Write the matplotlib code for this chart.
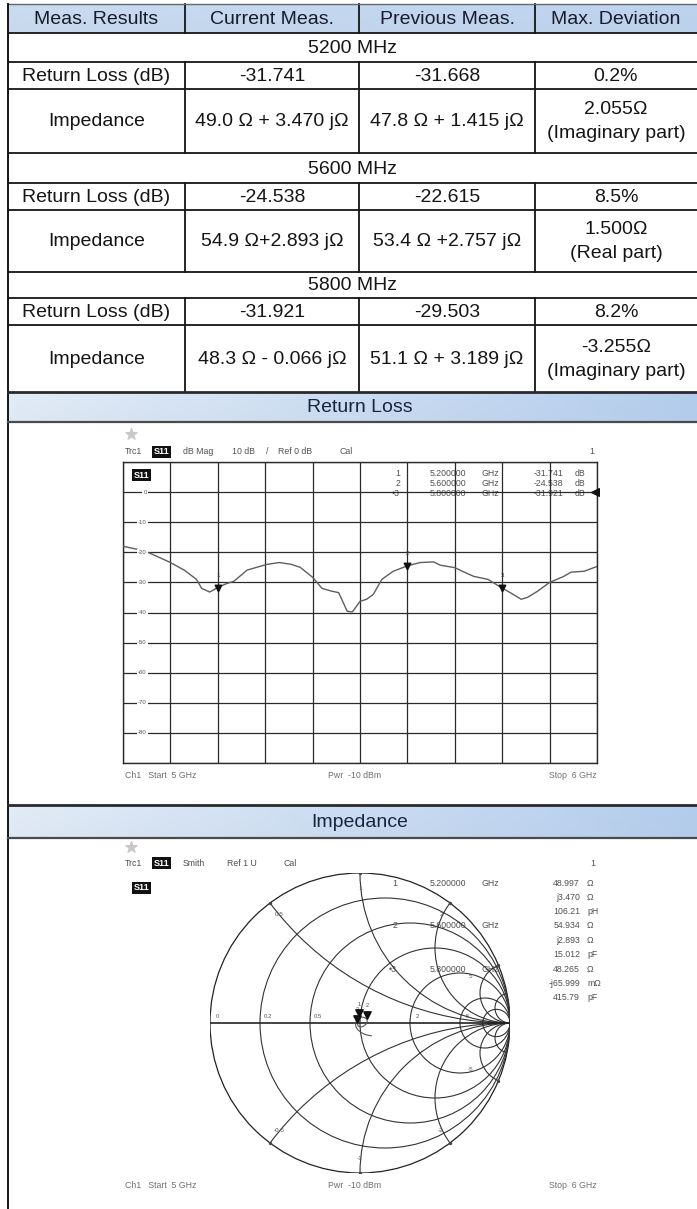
import numpy as np
import matplotlib.pyplot as plt
from matplotlib.patches import Circle

plt.rcParams['font.family'] = ['Liberation Sans', 'DejaVu Sans']

W, H = 697, 1209

# ---- results table ----
header = ["Meas. Results", "Current Meas.", "Previous Meas.", "Max. Deviation"]
bands = ["5200 MHz", "5600 MHz", "5800 MHz"]
rl_current = ["-31.741", "-24.538", "-31.921"]
rl_previous = ["-31.668", "-22.615", "-29.503"]
rl_dev = ["0.2%", "8.5%", "8.2%"]
z_current = ["49.0 Ω + 3.470 jΩ", "54.9 Ω+2.893 jΩ", "48.3 Ω - 0.066 jΩ"]
z_previous = ["47.8 Ω + 1.415 jΩ", "53.4 Ω +2.757 jΩ", "51.1 Ω + 3.189 jΩ"]
z_dev = ["2.055Ω", "1.500Ω", "-3.255Ω"]
z_dev_part = ["(Imaginary part)", "(Real part)", "(Imaginary part)"]

# ---- return loss trace (S11, dB) ----
freq_ghz = [5.00, 5.03, 5.057, 5.10, 5.13, 5.155, 5.166, 5.183, 5.20, 5.217,
            5.234, 5.262, 5.304, 5.33, 5.355, 5.374, 5.40, 5.42, 5.44, 5.455,
            5.473, 5.484, 5.50, 5.514, 5.528, 5.546, 5.57, 5.60, 5.627, 5.655,
            5.67, 5.70, 5.72, 5.74, 5.77, 5.80, 5.817, 5.84, 5.853, 5.874,
            5.90, 5.93, 5.945, 5.973, 6.00]
s11_db = [-18.0, -19.0, -20.3, -23.4, -26.0, -29.0, -32.0, -33.2, -31.7, -30.5,
          -29.6, -25.9, -24.0, -23.4, -24.0, -25.0, -28.3, -32.0, -32.9, -33.4,
          -39.6, -39.8, -36.3, -35.6, -34.0, -29.0, -26.3, -24.5, -23.4, -23.2,
          -24.3, -25.1, -26.6, -28.0, -29.0, -31.9, -33.4, -35.6, -35.0, -33.0,
          -30.0, -28.0, -26.6, -26.3, -24.7]
mk_freq = [5.2, 5.6, 5.8]
mk_db = [-31.741, -24.538, -31.921]
db_ticks = [0, -10, -20, -30, -40, -50, -60, -70, -80]

# ---- smith chart ----
r_circles = [0.2, 0.5, 1, 2, 5, 10]
x_arcs = [0.5, 1, 2, 5, 10]
r_labels = ["0", "0.2", "0.5", "2", "5"]
r_label_vals = [0, 0.2, 0.5, 2, 5]
x_label_vals = [0.5, 1, 2, 5, -0.5, -1, -2, -5]
x_labels = ["0.5", "1", "2", "5", "-0.5", "-1", "-2", "-5"]
gamma_re = [0.075, 0.055, 0.03, 0.005, -0.015, -0.027, -0.030, -0.022, -0.009, 0.010,
            0.030, 0.046, 0.048, 0.040, 0.022, 0.004, -0.012, -0.018, -0.012, 0.0]
gamma_im = [-0.085, -0.082, -0.075, -0.062, -0.045, -0.025, -0.005, 0.018, 0.035, 0.040,
            0.036, 0.027, 0.010, -0.008, -0.022, -0.028, -0.020, 0.0, 0.012, 0.015]
mk_z_re = [48.997, 54.934, 48.265]
mk_z_im = [3.470, 2.893, -0.066]
smith_freq = ["5.200000", "5.600000", "5.800000"]
smith_vals = [["48.997", "j3.470", "106.21"], ["54.934", "j2.893", "15.012"],
              ["48.265", "-j65.999", "415.79"]]
smith_units = [["Ω", "Ω", "pH"], ["Ω", "Ω", "pF"], ["Ω", "mΩ", "pF"]]

fig = plt.figure(figsize=(W / 100, H / 100), dpi=100)
ax = fig.add_axes([0, 0, 1, 1])
ax.set_xlim(0, W)
ax.set_ylim(H, 0)
ax.axis('off')

x_cols = [8, 185, 359, 535, W]
y_rows = [4, 33, 62, 89, 153, 183, 210, 272, 298, 325, 392]
fs = 14
ink = '#151515'


def gradient(x0, x1, y0, y1, c_left, c_right, shade=0.12):
    cl = np.array(plt.matplotlib.colors.to_rgb(c_left))
    cr = np.array(plt.matplotlib.colors.to_rgb(c_right))
    t = np.linspace(0, 1, 64)
    v = np.linspace(0, 1, 16)
    img = cl[None, None, :] * (1 - t[None, :, None]) + cr[None, None, :] * t[None, :, None]
    img = img * (1 - shade * v[:, None, None]) + shade * v[:, None, None] * 0.75
    img = np.clip(img, 0, 1)
    ax.imshow(img, extent=(x0, x1, y1, y0), aspect='auto', zorder=0, interpolation='bilinear')


# header band
gradient(x_cols[0], W, y_rows[0], y_rows[1], '#c9dcf2', '#bcd3ef', shade=0.1)
for i, h in enumerate(header):
    ax.text((x_cols[i] + x_cols[i + 1]) / 2, (y_rows[0] + y_rows[1]) / 2 + 1, h,
            ha='center', va='center', fontsize=fs, color='#1a1a2a')

for b in range(3):
    yb = y_rows[1 + 3 * b]
    y_rl = y_rows[2 + 3 * b]
    y_imp = y_rows[3 + 3 * b]
    y_end = y_rows[4 + 3 * b]
    ax.text(W / 2 + 4, (yb + y_rl) / 2 + 1, bands[b], ha='center', va='center',
            fontsize=fs, color=ink)
    cy = (y_rl + y_imp) / 2 + 1
    for i, s in enumerate(["Return Loss (dB)", rl_current[b], rl_previous[b], rl_dev[b]]):
        ax.text((x_cols[i] + x_cols[i + 1]) / 2, cy, s, ha='center', va='center',
                fontsize=fs, color=ink)
    cy = (y_imp + y_end) / 2 + 1
    for i, s in enumerate(["Impedance", z_current[b], z_previous[b]]):
        ax.text((x_cols[i] + x_cols[i + 1]) / 2, cy, s, ha='center', va='center',
                fontsize=fs, color=ink)
    ax.text((x_cols[3] + x_cols[4]) / 2, cy - 12, z_dev[b], ha='center', va='center',
            fontsize=fs, color=ink)
    ax.text((x_cols[3] + x_cols[4]) / 2, cy + 12, z_dev_part[b], ha='center', va='center',
            fontsize=fs, color=ink)
    # column dividers on return loss / impedance rows
    for xc in x_cols[1:4]:
        ax.plot([xc, xc], [y_rl, y_end], color=ink, lw=1.3)

for xc in x_cols[1:4]:
    ax.plot([xc, xc], [y_rows[0], y_rows[1]], color=ink, lw=1.3)
for yr in y_rows[1:-1]:
    ax.plot([x_cols[0], W], [yr, yr], color=ink, lw=1.3)
ax.plot([x_cols[0], W], [y_rows[0], y_rows[0]], color='#666666', lw=1.0)

# left border of the whole page
ax.plot([x_cols[0], x_cols[0]], [y_rows[0], H], color=ink, lw=1.4)


def banner(y0, y1, title):
    gradient(x_cols[0], W, y0, y1, '#e2ecf8', '#b3cdee', shade=0.1)
    ax.plot([x_cols[0], W], [y0, y0], color='#2a2a2a', lw=2.0)
    ax.plot([x_cols[0], W], [y1, y1], color='#4a4a4a', lw=1.6)
    ax.text(360, (y0 + y1) / 2 + 1, title, ha='center', va='center',
            fontsize=fs, color='#1a2440')


banner(392, 422, "Return Loss")
banner(805, 838, "Impedance")

small = 6.3
gray = '#505050'


def s11_box(x, y):
    ax.text(x, y, "S11", ha='left', va='center', fontsize=6.5, color='white',
            fontweight='bold', bbox=dict(facecolor='#111111', edgecolor='none', pad=1.2))


def title_row(y, items):
    for x, s in items:
        if s == "S11":
            s11_box(x, y)
        else:
            ax.text(x, y, s, ha='left', va='center', fontsize=small, color=gray)


# ---- return loss screen ----
ax.scatter([131], [434], marker='*', s=70, color='#c8c8c8', zorder=3)
title_row(452, [(125, "Trc1"), (154, "S11"), (183, "dB Mag"), (232, "10 dB"),
                (266, "/"), (278, "Ref 0 dB"), (339, "Cal")])
ax.text(592, 452, "1", ha='center', va='center', fontsize=small, color=gray)
s11_box(134, 475)

gx0, gx1, gy0, gy1 = 123, 597, 462, 763
rl = fig.add_axes([gx0 / W, 1 - gy1 / H, (gx1 - gx0) / W, (gy1 - gy0) / H])
rl.set_xlim(5, 6)
rl.set_ylim(-90, 10)
rl.set_xticks(np.linspace(5, 6, 11))
rl.set_yticks(np.arange(-90, 11, 10))
rl.grid(True, color='#2a2a2a', lw=0.9)
rl.tick_params(length=0, labelbottom=False, labelleft=False)
for sp in rl.spines.values():
    sp.set_color('#2a2a2a')
    sp.set_linewidth(1.0)
rl.set_facecolor('none')
rl.plot(freq_ghz, s11_db, color='#5e5e5e', lw=1.0, zorder=3)
rl.scatter(mk_freq, mk_db, marker='v', s=22, color='#111111', zorder=4)
for k, (f, d) in enumerate(zip(mk_freq, mk_db)):
    rl.annotate(str(k + 1), (f, d), xytext=(0, 9), textcoords='offset points',
                ha='center', va='center', fontsize=4.5, color='#444444')
rl.scatter([5.995], [0], marker='<', s=30, color='#111111', clip_on=False, zorder=5)
for d in db_ticks:
    rl.text(5.05, d, str(d), ha='right', va='center', fontsize=4.3, color='#555555',
            bbox=dict(facecolor='white', edgecolor='none', pad=0.6), zorder=4)

for k in range(3):
    y = 473 + 10 * k
    ax.text(400, y, ("•" if k == 2 else "") + str(k + 1), ha='right', va='center',
            fontsize=small, color=gray)
    ax.text(430, y, smith_freq[k], ha='left', va='center', fontsize=small, color=gray)
    ax.text(482, y, "GHz", ha='left', va='center', fontsize=small, color=gray)
    ax.text(563, y, f"{mk_db[k]:.3f}", ha='right', va='center', fontsize=small, color=gray)
    ax.text(575, y, "dB", ha='left', va='center', fontsize=small, color=gray)

ax.text(125, 775, "Ch1   Start  5 GHz", ha='left', va='center', fontsize=small, color='#707070')
ax.text(328, 775, "Pwr  -10 dBm", ha='left', va='center', fontsize=small, color='#707070')
ax.text(597, 775, "Stop  6 GHz", ha='right', va='center', fontsize=small, color='#707070')

# ---- smith chart screen ----
ax.scatter([131], [847], marker='*', s=70, color='#c8c8c8', zorder=3)
title_row(863, [(125, "Trc1"), (154, "S11"), (183, "Smith"), (227, "Ref 1 U"), (283, "Cal")])
ax.text(593, 863, "1", ha='center', va='center', fontsize=small, color=gray)
s11_box(134, 888)

cx, cy0, R = 360, 1023, 150
sm = fig.add_axes([(cx - R) / W, 1 - (cy0 + R) / H, 2 * R / W, 2 * R / H])
sm.set_xlim(-1, 1)
sm.set_ylim(-1, 1)
sm.axis('off')
sm.patch.set_alpha(0)
unit = Circle((0, 0), 1, transform=sm.transData, fill=False, lw=0.9, ec='#222222')
sm.add_patch(unit)
sm.plot([-1, 1], [0, 0], color='#222222', lw=1.2)
for r in r_circles:
    sm.add_patch(Circle((r / (1 + r), 0), 1 / (1 + r), fill=False, lw=0.8, ec='#333333'))
for xv in x_arcs:
    for sgn in (1, -1):
        arc = Circle((1, sgn / xv), 1 / xv, fill=False, lw=0.8, ec='#333333')
        sm.add_patch(arc)
        arc.set_clip_path(unit)

for lab, r in zip(r_labels, r_label_vals):
    g = (r - 1) / (r + 1)
    sm.text(g + 0.05, 0.045, lab, ha='center', va='center', fontsize=4.3, color='#555555')
for lab, xv in zip(x_labels, x_label_vals):
    g = (1j * xv - 1) / (1j * xv + 1)
    k = 0.8 if abs(xv) == 5 else 0.9
    sm.text(g.real * k, g.imag * k, lab, ha='center', va='center', fontsize=4.5,
            color='#555555')
    sm.scatter([g.real], [g.imag], s=2, color='#444444')

sm.plot(gamma_re, gamma_im, color='#555555', lw=0.8, zorder=3)
for k in range(3):
    z = complex(mk_z_re[k], mk_z_im[k])
    g = (z - 50) / (z + 50)
    sm.scatter([g.real], [g.imag + 0.03], marker='v', s=28, color='#111111', zorder=4)
    sm.text(g.real, g.imag + 0.09, str(k + 1), ha='center', va='center', fontsize=4,
            color='#444444')

for k in range(3):
    y = 883 + 43 * k
    ax.text(397, y, ("•" if k == 2 else "") + str(k + 1), ha='right', va='center',
            fontsize=small, color=gray)
    ax.text(430, y, smith_freq[k], ha='left', va='center', fontsize=small, color=gray)
    ax.text(482, y, "GHz", ha='left', va='center', fontsize=small, color=gray)
    for j in range(3):
        yy = y + 14.3 * j
        ax.text(580, yy, smith_vals[k][j], ha='right', va='center', fontsize=small, color=gray)
        ax.text(587, yy, smith_units[k][j], ha='left', va='center', fontsize=small, color=gray)

ax.text(125, 1185, "Ch1   Start  5 GHz", ha='left', va='center', fontsize=small, color='#707070')
ax.text(328, 1185, "Pwr  -10 dBm", ha='left', va='center', fontsize=small, color='#707070')
ax.text(597, 1185, "Stop  6 GHz", ha='right', va='center', fontsize=small, color='#707070')

fig.savefig("out.png", dpi=100)
